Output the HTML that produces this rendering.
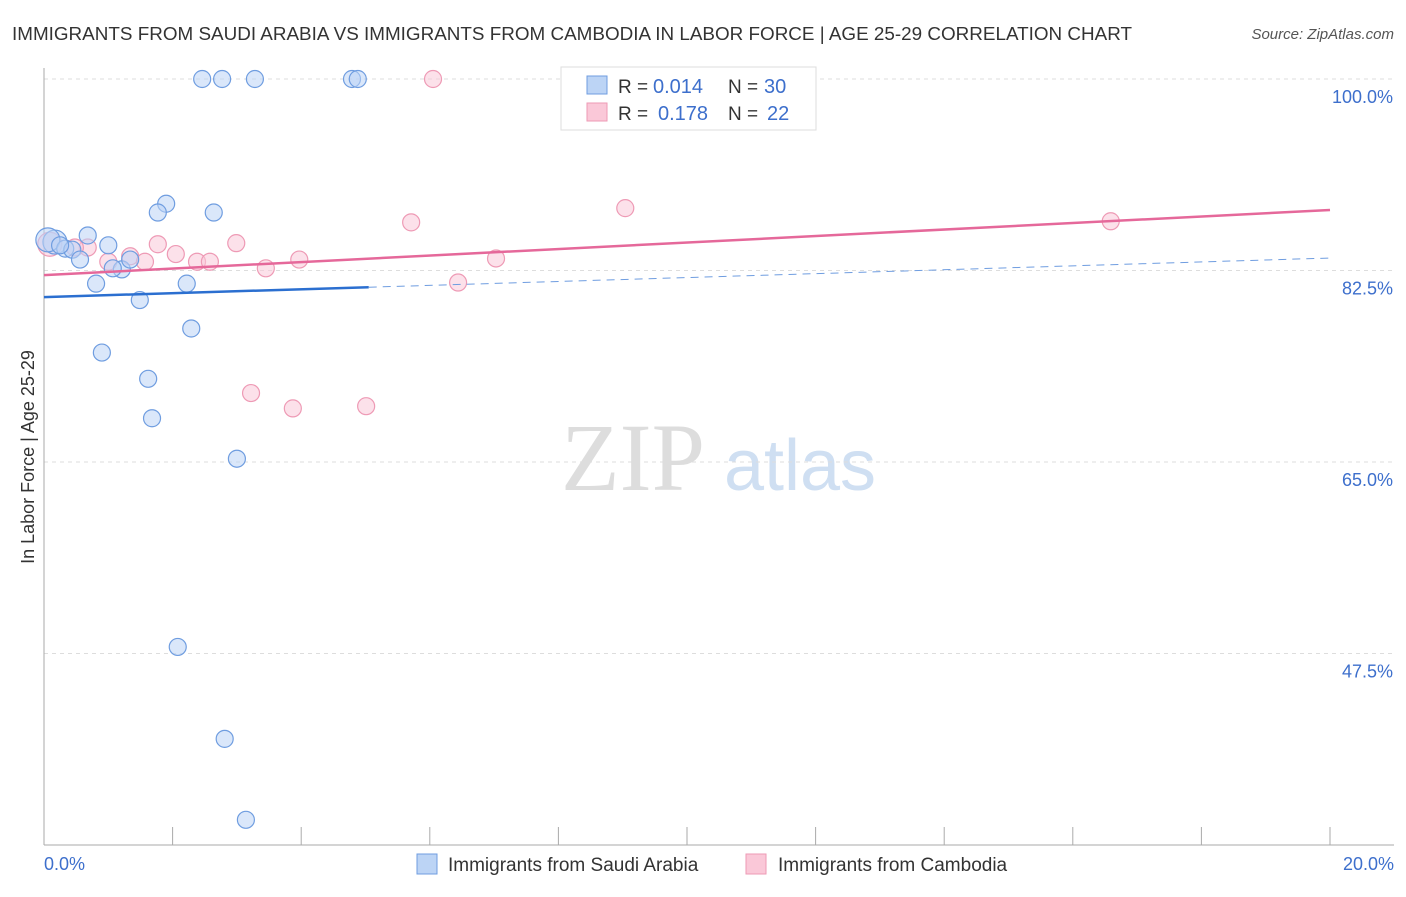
<!DOCTYPE html>
<html><head><meta charset="utf-8"><style>
body{margin:0;background:#fff;font-family:"Liberation Sans",sans-serif}
</style></head><body>
<svg width="1406" height="892" xmlns="http://www.w3.org/2000/svg">
<text x="12" y="40" font-size="18" fill="#333" textLength="1120" lengthAdjust="spacingAndGlyphs">IMMIGRANTS FROM SAUDI ARABIA VS IMMIGRANTS FROM CAMBODIA IN LABOR FORCE | AGE 25-29 CORRELATION CHART</text>
<text x="1394" y="39" font-size="15" fill="#555" font-style="italic" text-anchor="end">Source: ZipAtlas.com</text>
<g><text x="633" y="490" font-size="96" fill="#ddd" text-anchor="middle" font-family="Liberation Serif,serif">ZIP</text><text x="800" y="490" font-size="72" fill="#cfdff2" text-anchor="middle">atlas</text></g>
<g id="grid"></g><g id="axes"></g><g id="marks"></g>
<text transform="translate(34,457) rotate(-90)" font-size="18" fill="#333" text-anchor="middle">In Labor Force | Age 25-29</text>
<text x="44" y="870" font-size="18" fill="#3d6fcc">0.0%</text>
<text x="1394" y="870" font-size="18" fill="#3d6fcc" text-anchor="end">20.0%</text>
<g>
<rect x="561" y="67" width="255" height="63" fill="#fff" stroke="#ddd"/>
<rect x="587" y="76" width="20" height="18" fill="#bcd4f5" stroke="#6f9de0"/>
<rect x="587" y="103" width="20" height="18" fill="#fac8d8" stroke="#ee9ab5"/>
<text x="618" y="93" font-size="19" fill="#333">R =</text>
<text x="653" y="93" font-size="20" fill="#3d6fcc">0.014</text>
<text x="728" y="93" font-size="19" fill="#333">N =</text>
<text x="764" y="93" font-size="20" fill="#3d6fcc">30</text>
<text x="618" y="120" font-size="19" fill="#333">R =</text>
<text x="658" y="120" font-size="20" fill="#3d6fcc">0.178</text>
<text x="728" y="120" font-size="19" fill="#333">N =</text>
<text x="767" y="120" font-size="20" fill="#3d6fcc">22</text>
</g>
<g>
<rect x="417" y="854" width="20" height="20" fill="#bcd4f5" stroke="#6f9de0"/>
<text x="448" y="871" font-size="19" fill="#333">Immigrants from Saudi Arabia</text>
<rect x="746" y="854" width="20" height="20" fill="#fac8d8" stroke="#ee9ab5"/>
<text x="778" y="871" font-size="19" fill="#333">Immigrants from Cambodia</text>
</g>
</svg>
<script>
const yTicks=[100,82.5,65,47.5];
const yTickLabels=["100.0%","82.5%","65.0%","47.5%"];
const blueX=[2.46,2.77,3.28,4.79,4.88,1.90,1.77,2.64,0.68,1.00,0.17,0.06,0.33,0.44,0.56,1.21,1.07,1.34,0.81,2.22,1.49,2.29,0.90,1.62,1.68,3.00,2.08,2.81,3.14,0.25];
const blueY=[100,100,100,100,100,88.6,87.8,87.8,85.7,84.8,85.1,85.3,84.5,84.4,83.5,82.6,82.7,83.5,81.3,81.3,79.8,77.2,75.0,72.6,69.0,65.3,48.1,39.7,32.3,84.8];
const pinkX=[6.05,9.04,5.71,16.59,1.77,2.99,2.05,1.34,0.68,0.48,1.00,1.57,2.38,2.58,3.45,3.97,7.03,6.44,3.22,3.87,5.01,0.09];
const pinkY=[100,88.2,86.9,87.0,84.9,85.0,84.0,83.8,84.6,84.6,83.3,83.3,83.3,83.3,82.7,83.5,83.6,81.4,71.3,69.9,70.1,84.9];
const blueTrend=[80.07,83.64];
const pinkTrend=[82.08,88.03];
const NS="http://www.w3.org/2000/svg";
const xs=v=>44+v/20*1286, ys=v=>79+(100-v)*191.5/17.5;
function mk(tag,at,parent){const e=document.createElementNS(NS,tag);for(const k in at)e.setAttribute(k,at[k]);document.getElementById(parent).appendChild(e);return e;}
yTicks.forEach((t,i)=>{
 const g=mk('line',{x1:44,x2:1394,y1:ys(t),y2:ys(t),stroke:'#ddd','stroke-dasharray':'4,4'},'grid');
 
 
 const l=mk('text',{x:1393,y:ys(t)+24,'font-size':18,fill:'#3d6fcc','text-anchor':'end'},'grid');
 l.textContent=yTickLabels[i];
 
 
});
const ax=mk('line',{x1:44,x2:44,y1:68,y2:845,stroke:'#aaa'},'axes');


const bx=mk('line',{x1:44,x2:1394,y1:845,y2:845,stroke:'#aaa'},'axes');


for(let i=1;i<=10;i++){const t=mk('line',{x1:xs(i*2),x2:xs(i*2),y1:827,y2:845,stroke:'#aaa'},'axes');
 
 }
function pts(X,Y,fill,stroke,name){X.forEach((x,i)=>{const r=(x<0.2&&Y[i]>84.8)?12:8.5;
 const c=mk('circle',{cx:xs(x),cy:ys(Y[i]),r:r,fill:fill,'fill-opacity':0.55,stroke:stroke,'stroke-width':1.2},'marks');
 
 });}
pts(pinkX,pinkY,'#fac8d8','#ee9ab5','cambodia-point');
pts(blueX,blueY,'#bcd4f5','#6f9de0','saudi-point');
const bt=(v)=>blueTrend[0]+(blueTrend[1]-blueTrend[0])*v/20;
let l1=mk('line',{x1:xs(0),y1:ys(bt(0)),x2:xs(5.05),y2:ys(bt(5.05)),stroke:'#2b6fd0','stroke-width':2.5},'marks');


let l2=mk('line',{x1:xs(5.05),y1:ys(bt(5.05)),x2:xs(20),y2:ys(bt(20)),stroke:'#6f9de0','stroke-width':1,'stroke-dasharray':'8,6'},'marks');


let l3=mk('line',{x1:xs(0),y1:ys(pinkTrend[0]),x2:xs(20),y2:ys(pinkTrend[1]),stroke:'#e5689a','stroke-width':2.5},'marks');


</script>
</body></html>
